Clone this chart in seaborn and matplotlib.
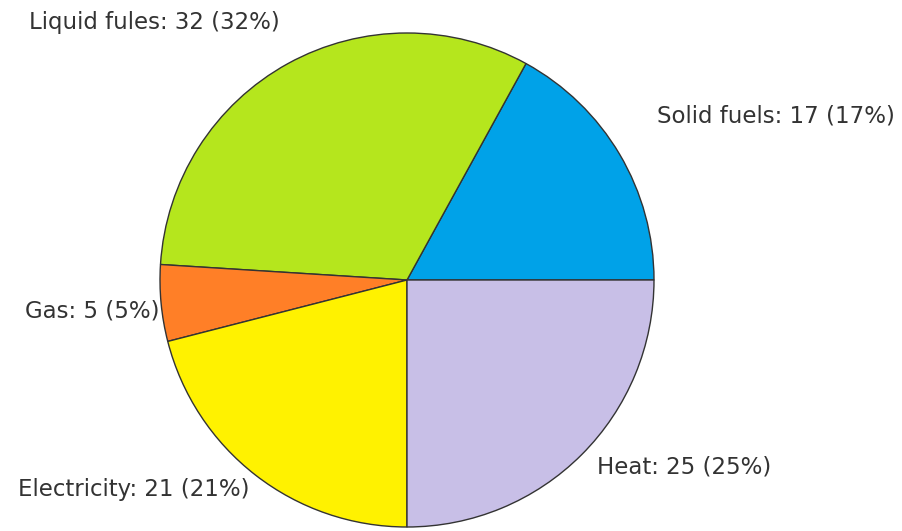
import matplotlib
matplotlib.use("Agg")
import matplotlib.pyplot as plt
import seaborn as sns
import numpy as np

# Final energy consumption by fuel type
categories = ["Solid fuels", "Liquid fules", "Gas", "Electricity", "Heat"]
values = [17, 32, 5, 21, 25]
colors = ["#00A2E8", "#B5E61D", "#FF7F27", "#FFF200", "#C8BFE7"]

sns.set_theme(style="white")
plt.rcParams["font.family"] = ["DejaVu Sans"]

W, H = 903, 531
fig = plt.figure(figsize=(W / 100, H / 100), dpi=100)
ax = fig.add_axes([0, 0, 1, 1])

cx, cy, radius = 407, H - 280, 247
total = sum(values)
wedges, _ = ax.pie(
    values,
    colors=colors,
    startangle=0,
    counterclock=True,
    center=(cx, cy),
    radius=radius,
    frame=True,
    wedgeprops=dict(edgecolor="#333333", linewidth=1.0),
)
ax.set_xlim(0, W)
ax.set_ylim(0, H)
ax.set_axis_off()
ax.set_aspect("equal")

# Label anchors (pixels from top-left) and alignment per slice
label_layout = {
    "Solid fuels": (657, 116, "left"),
    "Liquid fules": (280, 22, "right"),
    "Gas": (160, 311, "right"),
    "Electricity": (250, 490, "right"),
    "Heat": (597, 467, "left"),
}
for name, val in zip(categories, values):
    x, y, ha = label_layout[name]
    pct = round(100 * val / total)
    ax.text(x, H - y, f"{name}: {val} ({pct}%)", ha=ha, va="center",
            fontsize=16.5, color="#333333")

fig.savefig("out.png", dpi=100)
